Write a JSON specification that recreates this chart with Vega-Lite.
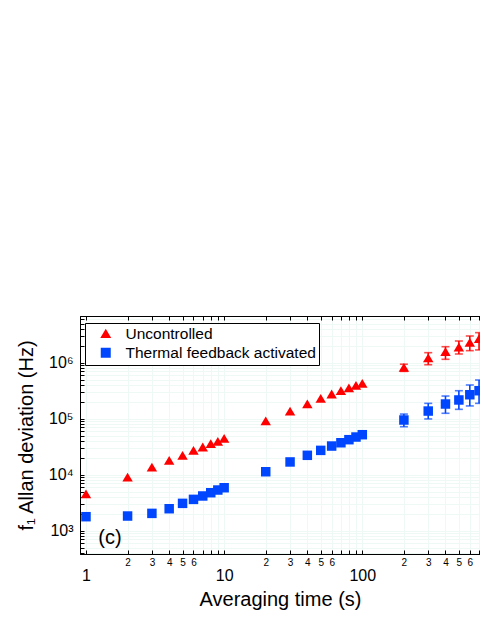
{
  "$schema": "https://vega.github.io/schema/vega-lite/v6.json",
  "width": 400,
  "height": 238,
  "autosize": {"type": "none"},
  "padding": {"left": 80, "top": 316, "right": 0, "bottom": 67},
  "background": "white",
  "config": {"font": "Liberation Sans", "view": {"stroke": "black", "strokeWidth": 1}},
  "datasets": {
    "pts": [
      {"t": 1, "v": 4470, "series": "Uncontrolled"},
      {"t": 2, "v": 8900, "series": "Uncontrolled"},
      {"t": 3, "v": 13500, "series": "Uncontrolled"},
      {"t": 4, "v": 17800, "series": "Uncontrolled"},
      {"t": 5, "v": 21800, "series": "Uncontrolled"},
      {"t": 6, "v": 26800, "series": "Uncontrolled"},
      {"t": 7, "v": 30800, "series": "Uncontrolled"},
      {"t": 8, "v": 35300, "series": "Uncontrolled"},
      {"t": 9, "v": 38800, "series": "Uncontrolled"},
      {"t": 10, "v": 44000, "series": "Uncontrolled"},
      {"t": 20, "v": 90000, "series": "Uncontrolled"},
      {"t": 30, "v": 135000, "series": "Uncontrolled"},
      {"t": 40, "v": 181000, "series": "Uncontrolled"},
      {"t": 50, "v": 228000, "series": "Uncontrolled"},
      {"t": 60, "v": 272000, "series": "Uncontrolled"},
      {"t": 70, "v": 312000, "series": "Uncontrolled"},
      {"t": 80, "v": 349000, "series": "Uncontrolled"},
      {"t": 90, "v": 388000, "series": "Uncontrolled"},
      {"t": 100, "v": 422000, "series": "Uncontrolled"},
      {"t": 200, "v": 815000, "lo": 700000, "hi": 940000, "series": "Uncontrolled"},
      {"t": 300, "v": 1200000, "lo": 920000, "hi": 1510000, "series": "Uncontrolled"},
      {"t": 400, "v": 1550000, "lo": 1150000, "hi": 1930000, "series": "Uncontrolled"},
      {"t": 500, "v": 1880000, "lo": 1430000, "hi": 2440000, "series": "Uncontrolled"},
      {"t": 600, "v": 2280000, "lo": 1640000, "hi": 3000000, "series": "Uncontrolled"},
      {"t": 700, "v": 2650000, "lo": 1690000, "hi": 3440000, "series": "Uncontrolled"},
      {"t": 1, "v": 1780, "series": "Thermal feedback activated"},
      {"t": 2, "v": 1830, "series": "Thermal feedback activated"},
      {"t": 3, "v": 2040, "series": "Thermal feedback activated"},
      {"t": 4, "v": 2470, "series": "Thermal feedback activated"},
      {"t": 5, "v": 3080, "series": "Thermal feedback activated"},
      {"t": 6, "v": 3630, "series": "Thermal feedback activated"},
      {"t": 7, "v": 4170, "series": "Thermal feedback activated"},
      {"t": 8, "v": 4770, "series": "Thermal feedback activated"},
      {"t": 9, "v": 5330, "series": "Thermal feedback activated"},
      {"t": 10, "v": 5860, "series": "Thermal feedback activated"},
      {"t": 20, "v": 11300, "series": "Thermal feedback activated"},
      {"t": 30, "v": 16900, "series": "Thermal feedback activated"},
      {"t": 40, "v": 22200, "series": "Thermal feedback activated"},
      {"t": 50, "v": 27200, "series": "Thermal feedback activated"},
      {"t": 60, "v": 32500, "series": "Thermal feedback activated"},
      {"t": 70, "v": 37200, "series": "Thermal feedback activated"},
      {"t": 80, "v": 42200, "series": "Thermal feedback activated"},
      {"t": 90, "v": 47100, "series": "Thermal feedback activated"},
      {"t": 100, "v": 51800, "series": "Thermal feedback activated"},
      {"t": 200, "v": 94800, "lo": 72000, "hi": 121000, "series": "Thermal feedback activated"},
      {"t": 300, "v": 137000, "lo": 99000, "hi": 188000, "series": "Thermal feedback activated"},
      {"t": 400, "v": 183000, "lo": 125000, "hi": 254000, "series": "Thermal feedback activated"},
      {"t": 500, "v": 216000, "lo": 147000, "hi": 316000, "series": "Thermal feedback activated"},
      {"t": 600, "v": 268000, "lo": 169000, "hi": 400000, "series": "Thermal feedback activated"},
      {"t": 700, "v": 316000, "lo": 188000, "hi": 491000, "series": "Thermal feedback activated"}
    ]
  },
  "data": {"name": "pts"},
  "layer": [
    {
      "transform": [{"filter": "isValid(datum.lo) && datum.series == 'Uncontrolled'"}],
      "mark": {"type": "errorbar", "color": "#ff0000", "ticks": {"size": 8, "thickness": 1.6}, "thickness": 1.6},
      "encoding": {
        "x": {"field": "t", "type": "quantitative", "scale": {"type": "log", "domain": [0.905, 711], "nice": false}, "axis": null},
        "y": {"field": "lo", "type": "quantitative", "scale": {"type": "log", "domain": [384, 6820000], "nice": false}, "axis": null},
        "y2": {"field": "hi"}
      }
    },
    {
      "transform": [{"filter": "isValid(datum.lo) && datum.series != 'Uncontrolled'"}],
      "mark": {"type": "errorbar", "color": "#0046ff", "ticks": {"size": 8, "thickness": 1.6}, "thickness": 1.6},
      "encoding": {
        "x": {"field": "t", "type": "quantitative", "scale": {"type": "log", "domain": [0.905, 711], "nice": false}, "axis": null},
        "y": {"field": "lo", "type": "quantitative", "scale": {"type": "log", "domain": [384, 6820000], "nice": false}, "axis": null},
        "y2": {"field": "hi"}
      }
    },
    {
      "mark": {"type": "point", "filled": true, "size": 90, "opacity": 1},
      "encoding": {
        "x": {
          "field": "t", "type": "quantitative",
          "scale": {"type": "log", "domain": [0.905, 711], "nice": false},
          "axis": {
            "orient": "bottom",
            "values": [1,2,3,4,5,6,7,8,9,10,20,30,40,50,60,70,80,90,100,200,300,400,500,600,700],
            "tickSize": -4, "tickColor": "black", "domainColor": "black",
            "labelPadding": 7,
            "labelExpr": "(datum.value==1||datum.value==10||datum.value==100) ? ['', toString(datum.value)] : (indexof([2,3,4,5,6,20,30,40,50,60,200,300,400,500,600], datum.value) >= 0 ? substring(toString(datum.value),0,1) : '')",
            "labelFontSize": {"condition": {"test": "datum.value==1||datum.value==10||datum.value==100", "value": 16}, "value": 10},
            "labelLineHeight": 10,
            "labelColor": "black", "labelOverlap": false, "labelBound": false, "labelFlush": false,
            "grid": true, "gridColor": "#eef8f5",
            "title": "Averaging time (s)", "titleFontSize": 20, "titleFontWeight": "normal", "titleColor": "black", "titlePadding": 6,
            "encode": {"ticks": {"update": {"y2": {"signal": "(datum.value==1||datum.value==10||datum.value==100) ? -7 : -4"}}}}
          }
        },
        "y": {
          "field": "v", "type": "quantitative",
          "scale": {"type": "log", "domain": [384, 6820000], "nice": false},
          "axis": {
            "orient": "left",
            "values": [400,500,600,700,800,900,1000,2000,3000,4000,5000,6000,7000,8000,9000,10000,20000,30000,40000,50000,60000,70000,80000,90000,100000,200000,300000,400000,500000,600000,700000,800000,900000,1000000,2000000,3000000,4000000,5000000,6000000],
            "tickSize": -4, "tickColor": "black", "domainColor": "black",
            "labelPadding": 11,
            "labelExpr": "datum.value==1000 ? '10³' : datum.value==10000 ? '10⁴' : datum.value==100000 ? '10⁵' : datum.value==1000000 ? '10⁶' : ''",
            "labelFontSize": 16, "labelColor": "black", "labelOverlap": false, "labelBound": false, "labelFlush": false,
            "grid": true, "gridColor": "#eef8f5",
            "title": "f₁ Allan deviation (Hz)", "titleFontSize": 20, "titleFontWeight": "normal", "titleColor": "black", "titlePadding": 12,
            "encode": {"ticks": {"update": {"x2": {"signal": "(datum.value==1000||datum.value==10000||datum.value==100000||datum.value==1000000) ? 7 : 4"}}}}
          }
        },
        "color": {
          "field": "series", "type": "nominal",
          "scale": {"domain": ["Uncontrolled", "Thermal feedback activated"], "range": ["#ff0000", "#0046ff"]},
          "legend": {
            "title": null, "orient": "none", "legendX": 5, "legendY": 7,
            "strokeColor": "black", "fillColor": "white", "padding": 3, "rowPadding": 2,
            "labelFontSize": 15.5, "labelColor": "black", "symbolSize": 100, "symbolOffset": 10, "labelOffset": 12, "symbolStrokeWidth": 0, "labelLimit": 400
          }
        },
        "shape": {
          "field": "series", "type": "nominal",
          "scale": {"domain": ["Uncontrolled", "Thermal feedback activated"], "range": ["M-1.1,0.85L1.1,0.85L0,-1.0Z", "square"]}
        }
      }
    },
    {
      "data": {"values": [{"label": "(c)"}]},
      "mark": {"type": "text", "fontSize": 20, "align": "center", "baseline": "middle", "color": "black"},
      "encoding": {
        "x": {
          "datum": 1.49, "type": "quantitative",
          "axis": {
            "orient": "top",
            "values": [1,2,3,4,5,6,7,8,9,10,20,30,40,50,60,70,80,90,100,200,300,400,500,600,700],
            "tickSize": -4, "tickColor": "black", "domainColor": "black", "labels": false, "grid": false, "title": null,
            "encode": {"ticks": {"update": {"y2": {"signal": "(datum.value==1||datum.value==10||datum.value==100) ? 7 : 4"}}}}
          }
        },
        "y": {"datum": 740, "type": "quantitative", "axis": null},
        "text": {"field": "label"}
      }
    }
  ],
  "resolve": {"axis": {"x": "independent", "y": "independent"}}
}
